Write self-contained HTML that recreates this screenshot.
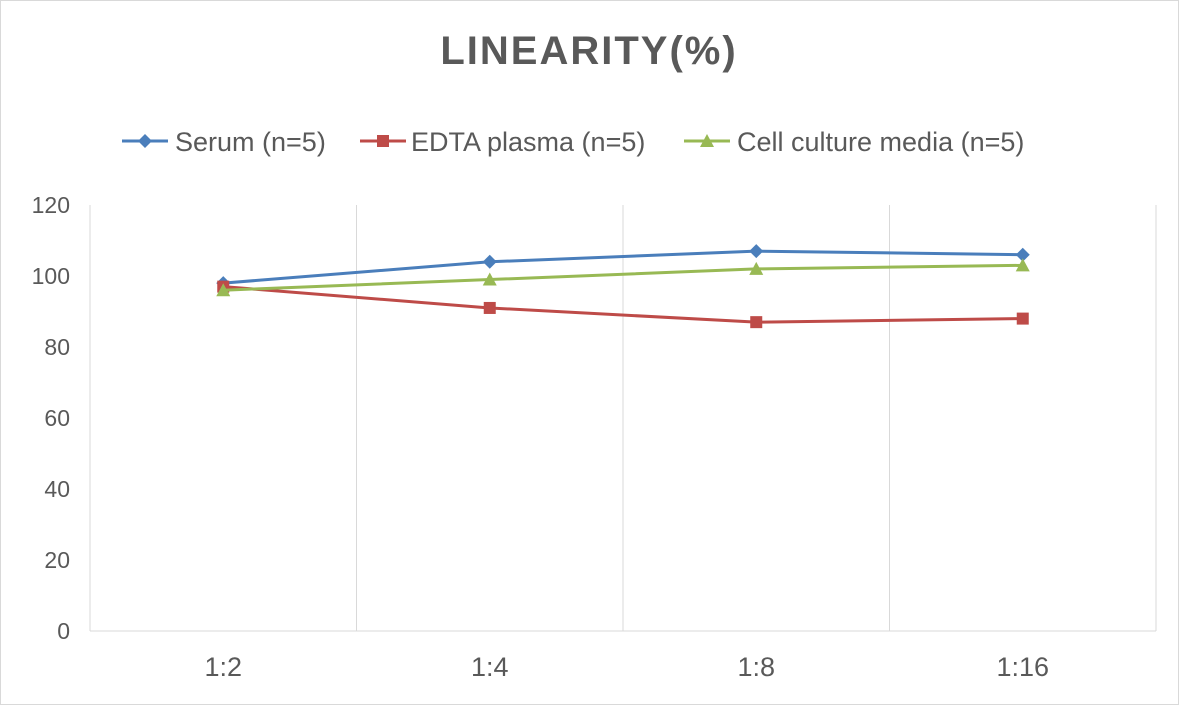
<!DOCTYPE html>
<html><head><meta charset="utf-8"><style>
html,body{margin:0;padding:0;background:#fff;}
svg{display:block;font-family:"Liberation Sans",sans-serif;}
</style></head><body>
<svg id="chart" width="1179" height="705" viewBox="0 0 1179 705">
<rect x="0.5" y="0.5" width="1178" height="704" fill="#fff" stroke="#d9d9d9"/>
<text x="589" y="64" text-anchor="middle" font-size="40" font-weight="bold" fill="#595959" letter-spacing="2">LINEARITY(%)</text>
<g id="legend"></g>
<g id="grid"></g>
<g id="axes"></g>
<g id="series"></g>
</svg>
<script>
const categories = ["1:2","1:4","1:8","1:16"];
const serum = [98,104,107,106];
const edta = [97,91,87,88];
const cell = [96,99,102,103];
const yTicks = [0,20,40,60,80,100,120];
const seriesNames = ["Serum (n=5)","EDTA plasma (n=5)","Cell culture media (n=5)"];

const NS="http://www.w3.org/2000/svg";
const L=90,R=1156,T=205,B=631,yMax=120;
const bw=(R-L)/categories.length;
const xs=i=>L+bw*(i+0.5);
const ys=v=>B-(v/yMax)*(B-T);
function mk(tag,attrs,parent){const e=document.createElementNS(NS,tag);for(const k in attrs)e.setAttribute(k,attrs[k]);parent.appendChild(e);return e;}
const grid=document.getElementById('grid'),axes=document.getElementById('axes'),ser=document.getElementById('series'),leg=document.getElementById('legend');
for(let i=0;i<=categories.length;i++){
  const l=mk('line',{x1:L+bw*i,x2:L+bw*i,y1:T,y2:B,stroke:'#d9d9d9','stroke-width':1},grid);
  
  
}
const ax=mk('line',{x1:L,x2:R,y1:B,y2:B,stroke:'#d9d9d9','stroke-width':1},axes);


yTicks.forEach(v=>{
  const t=mk('text',{x:70,y:ys(v)+8,'text-anchor':'end','font-size':23,fill:'#595959'},axes);
  t.textContent=v;
  
  
});
categories.forEach((c,i)=>{
  const t=mk('text',{x:xs(i),y:676,'text-anchor':'middle','font-size':27,fill:'#595959'},axes);
  t.textContent=c;
  
  
});
function marker(kind,x,y,col,parent){
  let m;
  if(kind==='diamond') m=mk('polygon',{points:`${x},${y-7} ${x+7},${y} ${x},${y+7} ${x-7},${y}`,fill:col},parent);
  else if(kind==='square') m=mk('rect',{x:x-6,y:y-6,width:12,height:12,fill:col},parent);
  else m=mk('polygon',{points:`${x},${y-7} ${x+7},${y+6} ${x-7},${y+6}`,fill:col},parent);
  return m;
}
const defs=[[serum,'#4a7ebb','diamond'],[edta,'#be4b48','square'],[cell,'#98b954','triangle']];
defs.forEach(([vals,col,kind],si)=>{
  const g=mk('g',{},ser);
  
  
  const p=mk('polyline',{points:vals.map((v,i)=>xs(i)+','+ys(v)).join(' '),fill:'none',stroke:col,'stroke-width':3},g);
  
  
  vals.forEach((v,i)=>{
    const m=marker(kind,xs(i),ys(v),col,g);
    
    
  });
});
const legX=[122,360,684],legText=[175,411,737];
defs.forEach(([vals,col,kind],si)=>{
  const g=mk('g',{},leg);
  
  
  mk('line',{x1:legX[si],x2:legX[si]+46,y1:141,y2:141,stroke:col,'stroke-width':3},g);
  marker(kind,legX[si]+23,141,col,g);
  const t=mk('text',{x:legText[si],y:151,'font-size':27,fill:'#595959'},g);
  t.textContent=seriesNames[si];
});
</script>
</body></html>
